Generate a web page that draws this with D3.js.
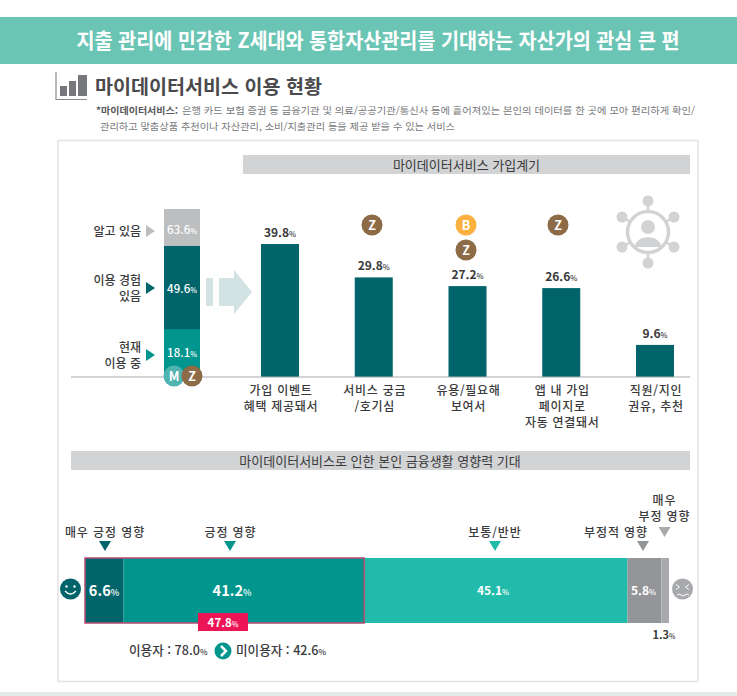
<!DOCTYPE html>
<html lang="ko"><head><meta charset="utf-8">
<script src="https://cdn.jsdelivr.net/npm/d3@7/dist/d3.min.js"></script>
<style>html,body{margin:0;padding:0;background:#fff}svg{display:block}text{font-family:"Noto Sans CJK KR","Noto Sans",sans-serif}</style>
</head><body><div id="c"></div>
<script>
const reasonCats = [["가입 이벤트","혜택 제공돼서"],["서비스 궁금","/호기심"],["유용/필요해","보여서"],["앱 내 가입","페이지로","자동 연결돼서"],["직원/지인","권유, 추천"]];
const reasonVals = [39.8,29.8,27.2,26.6,9.6];
const reasonBadges = [[],["Z"],["B","Z"],["Z"],[]];
const funnelLabels = [["알고 있음"],["이용 경험","있음"],["현재","이용 중"]];
const funnelVals = [63.6,49.6,18.1];
const impactLabels = [["매우 긍정 영향"],["긍정 영향"],["보통/반반"],["부정적 영향"],["매우","부정 영향"]];
const impactVals = [6.6,41.2,45.1,5.8,1.3];
const title = "지출 관리에 민감한 Z세대와 통합자산관리를 기대하는 자산가의 관심 큰 편";
const subtitle = "마이데이터서비스 이용 현황";
const note1b = "*마이데이터서비스:";
const note1 = "은행 카드 보험 증권 등 금융기관 및 의료/공공기관/통신사 등에 흩어져있는 본인의 데이터를 한 곳에 모아 편리하게 확인/";
const note2 = "관리하고 맞춤상품 추천이나 자산관리, 소비/지출관리 등을 제공 받을 수 있는 서비스";

const W=737,H=696;
const DARK="#00646a",MID="#00958d",LIGHT="#20bbaa",INK="#3a3a3c";
const svg=d3.select("#c").append("svg").attr("width",W).attr("height",H).attr("viewBox",[0,0,W,H]);
const rect=(x,y,w,h,f)=>svg.append("rect").attr("x",x).attr("y",y).attr("width",w).attr("height",h).attr("fill",f);
function txt(x,y,s,o={}){
  const t=svg.append("text").attr("x",x).attr("y",y).attr("text-anchor",o.a||"middle")
    .attr("font-size",o.s||12).attr("font-weight",o.w||400).attr("fill",o.f||INK).text(s);
  if(o.len) t.attr("textLength",o.len).attr("lengthAdjust","spacingAndGlyphs");
  return t;
}
function multi(x,y,lines,dy,o={}){
  const t=svg.append("text").attr("text-anchor",o.a||"middle")
    .attr("font-size",o.s||12).attr("font-weight",o.w||500).attr("fill",o.f||INK)
    .attr("letter-spacing",o.ls||0);
  lines.forEach((s,j)=>t.append("tspan").attr("x",x).attr("y",y+j*dy).text(s));
  return t;
}
function pct(x,y,v,o={}){
  const t=svg.append("text").attr("x",x).attr("y",y).attr("text-anchor","middle")
    .attr("font-size",o.s||12).attr("font-weight",o.w||700).attr("fill",o.f||INK);
  t.append("tspan").text(v.toFixed(1));
  t.append("tspan").attr("font-size",(o.s||12)*0.62).attr("font-weight",500).text("%");
  return t;
}
// header
rect(0,17,W,47,"#6bc5b5");
txt(378,48,title,{s:21,w:700,f:"#fff",len:603});
// subtitle icon
svg.append("path").attr("d","M56 72V99.5H87").attr("fill","none").attr("stroke","#8a8a8c").attr("stroke-width",1.2);
rect(60,86,7,10,"#77787b");rect(69,81,7,15,"#77787b");rect(78,75,9,21,"#77787b");
txt(95,94,subtitle,{s:19,w:700,a:"start",f:"#4a4a4c",len:227});
txt(96,114,note1b,{s:9.5,w:700,a:"start",f:"#58595b",len:82});
txt(182,114,note1,{s:9.5,a:"start",f:"#77787b",len:513});
txt(100,130,note2,{s:9.5,a:"start",f:"#77787b",len:355});
// panel
svg.append("rect").attr("x",58).attr("y",140.5).attr("width",640).attr("height",541).attr("fill","#fff").attr("stroke","#e2e3e4").attr("stroke-width",1.5);
rect(243,155,447,19,"#d1d3d4");
txt(466.5,169.5,"마이데이터서비스 가입계기",{s:13,w:400,f:"#3a3a3c"});
rect(71,451,619,19,"#d1d3d4");
txt(380,465.5,"마이데이터서비스로 인한 본인 금융생활 영향력 기대",{s:13,w:400,f:"#3a3a3c"});

const baseY=377;
// funnel
const yF=d3.scaleLinear().domain([0,63.6]).range([baseY,209]);
const fCols=["#bcbec0",DARK,MID];
svg.append("g").selectAll("rect").data(funnelVals).join("rect")
  .attr("x",164).attr("width",36).attr("y",d=>yF(d)).attr("height",d=>baseY-yF(d)).attr("fill",(d,i)=>fCols[i]);
const fBase=[234,293,357];
funnelVals.forEach((v,i)=>pct(182,fBase[i],v,{s:11.5,w:500,f:"#fff"}));
const triY=[231,288,355];
funnelLabels.forEach((l,i)=>{
  svg.append("path").attr("d",d3.line()([[146,triY[i]-6],[146,triY[i]+6],[155,triY[i]]])+"Z").attr("fill",fCols[i]);
  multi(141,triY[i]+4.5-(l.length-1)*8,l,16,{a:"end",s:12});
});
// big arrow
rect(206,278,7,28,"#d3e3e3");
svg.append("path").attr("d","M219 278H234V270L252 292L234 314V306H219Z").attr("fill","#d3e3e3");
// bars
const x=d3.scalePoint().domain(d3.range(reasonVals.length)).range([280,655]);
const y=d3.scaleLinear().domain([0,39.8]).range([baseY,244]);
svg.append("g").selectAll("rect").data(reasonVals).join("rect")
  .attr("x",(d,i)=>x(i)-19).attr("width",38).attr("y",d=>y(d)).attr("height",d=>baseY-y(d)).attr("fill",DARK);
svg.append("line").attr("x1",71).attr("x2",690).attr("y1",baseY).attr("y2",baseY).attr("stroke","#a7a9ac").attr("stroke-width",1.2);
reasonVals.forEach((v,i)=>pct(x(i),y(v)-7,v,{s:12}));
reasonCats.forEach((l,i)=>multi(x(i)+1,395,l,16,{s:12,ls:0.7}));
// badges
function badge(cx,cy,s,f,r=10.5){
  svg.append("circle").attr("cx",cx).attr("cy",cy).attr("r",r).attr("fill",f);
  txt(cx,cy+4.5,s,{s:12.5,w:700,f:"#fff"});
}
const bCol={Z:"#8c6b46",B:"#fbb040"};
const bX=[0,372,466,558,0];
reasonBadges.forEach((b,i)=>b.forEach((s,j)=>badge(bX[i],225+j*25,s,bCol[s])));
badge(174,376,"M","#4fb3b0");
badge(192,376,"Z",bCol.Z);
// network icon
const nc="#d1d3d4",ncx=648,ncy=232;
[[0,-31],[-26,-15],[26,-15],[-26,15],[26,15],[0,31]].forEach(p=>{
  svg.append("line").attr("x1",ncx).attr("y1",ncy).attr("x2",ncx+p[0]).attr("y2",ncy+p[1]).attr("stroke",nc).attr("stroke-width",2.5);
  svg.append("circle").attr("cx",ncx+p[0]).attr("cy",ncy+p[1]).attr("r",5.5).attr("fill",nc);
});
svg.append("circle").attr("cx",ncx).attr("cy",ncy).attr("r",20.5).attr("fill","#fff").attr("stroke",nc).attr("stroke-width",3.5);
svg.append("circle").attr("cx",ncx).attr("cy",ncy-5).attr("r",7).attr("fill",nc);
svg.append("path").attr("d",`M${ncx-13} ${ncy+15}C${ncx-13} ${ncy+2} ${ncx+13} ${ncy+2} ${ncx+13} ${ncy+15}Z`).attr("fill",nc);

// stacked bar
const xS=d3.scaleLinear().domain([0,100]).range([85,669]);
const sCols=[DARK,MID,LIGHT,"#939598","#a7a9ac"];
const starts=d3.cumsum(impactVals).map((d,i)=>d-impactVals[i]);
svg.append("g").selectAll("rect").data(impactVals).join("rect")
  .attr("x",(d,i)=>xS(starts[i])).attr("width",d=>xS(d)-xS(0)).attr("y",558).attr("height",65).attr("fill",(d,i)=>sCols[i]);
const posSum=impactVals[0]+impactVals[1];
svg.append("rect").attr("x",xS(0)).attr("y",558).attr("width",xS(posSum)-xS(0)).attr("height",65).attr("fill","none").attr("stroke","#b84a72").attr("stroke-width",1.5);
pct(104,596,impactVals[0],{s:14.5,f:"#fff"});
pct(232,596,impactVals[1],{s:14.5,f:"#fff"});
pct(493,594.5,impactVals[2],{s:12,f:"#fff"});
pct(643.5,595,impactVals[3],{s:12,f:"#fff"});
pct(664,638.5,impactVals[4],{s:11,f:INK});
// impact labels
const tri=[[105,DARK,546],[230,MID,546],[495,LIGHT,546],[643,"#939598",546],[664.5,"#a7a9ac",532]];
tri.forEach(t=>{
  svg.append("path").attr("d",d3.line()([[t[0]-6,t[2]-5],[t[0]+6,t[2]-5],[t[0],t[2]+5]])+"Z").attr("fill",t[1]);
});
const lblPos=[[105,537],[230.5,537],[495,537],[616,537],[664.5,504.5]];
impactLabels.forEach((l,i)=>multi(lblPos[i][0],lblPos[i][1],l,16,{s:12,ls:0.9}));
// pink tag
rect(198,613,50,18,"#ed1556");
pct(223,627,posSum,{s:11.5,f:"#fff"});
// users
txt(129,655,"이용자 : 78.0",{a:"start",s:12.6,w:500}).append("tspan").attr("font-size",8).text("%");
svg.append("circle").attr("cx",223).attr("cy",651).attr("r",8.5).attr("fill",MID);
svg.append("path").attr("d","M221 646L226 651L221 656").attr("fill","none").attr("stroke","#fff").attr("stroke-width",2.5);
txt(236,655,"미이용자 : 42.6",{a:"start",s:12.6,w:500}).append("tspan").attr("font-size",8).text("%");
// smileys
svg.append("circle").attr("cx",70.5).attr("cy",589).attr("r",10.5).attr("fill",DARK);
svg.append("circle").attr("cx",66.5).attr("cy",586.5).attr("r",1.2).attr("fill","#fff");
svg.append("circle").attr("cx",74.5).attr("cy",586.5).attr("r",1.2).attr("fill","#fff");
svg.append("path").attr("d","M65 591Q70.5 597 76 591").attr("fill","none").attr("stroke","#fff").attr("stroke-width",1.3);
svg.append("circle").attr("cx",682.5).attr("cy",589).attr("r",10.5).attr("fill","#a7a9ac");
svg.append("path").attr("d","M676 584.5L679.5 587L676 589.5M689 584.5L685.5 587L689 589.5").attr("fill","none").attr("stroke","#fff").attr("stroke-width",1);
svg.append("path").attr("d","M677 595Q679 593 681 595T685 595T689 595").attr("fill","none").attr("stroke","#fff").attr("stroke-width",1);
// bottom strip
rect(0,692,W,4,"#e6ebe8");
</script></body></html>
